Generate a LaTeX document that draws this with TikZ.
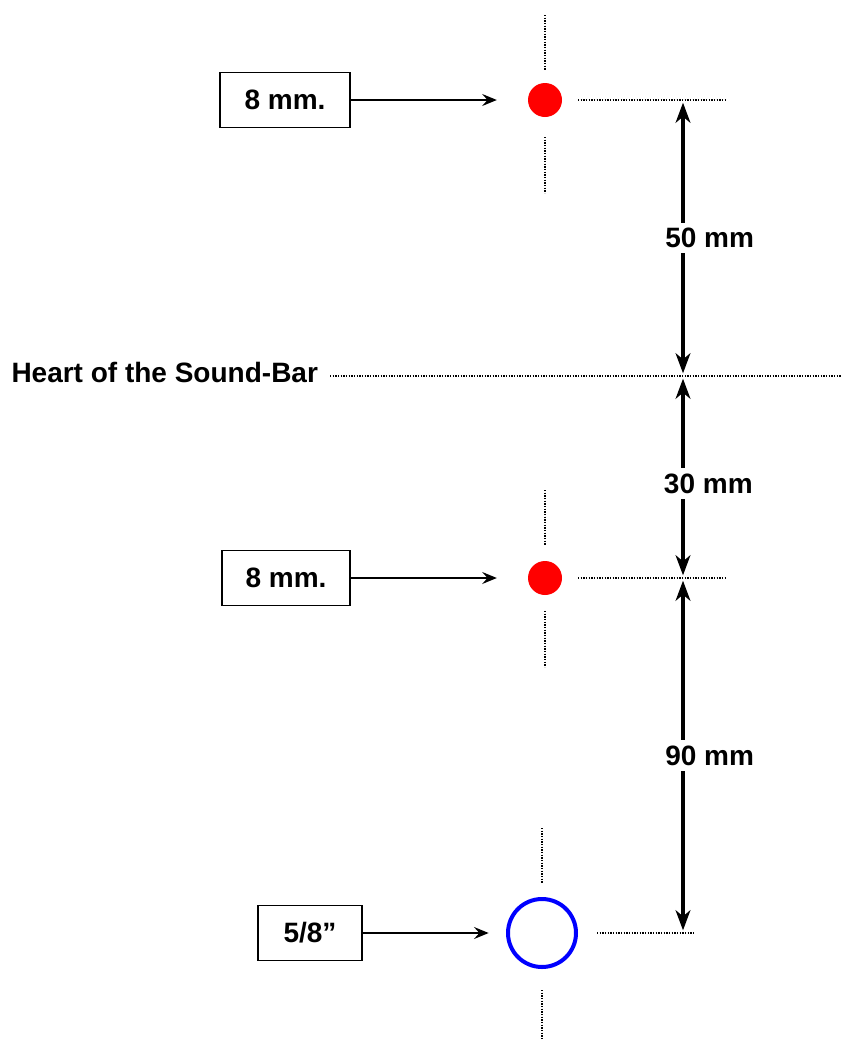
\documentclass[tikz,border=0pt]{standalone}
\usepackage{fontspec}
\setmainfont{Liberation Sans}
\usetikzlibrary{arrows.meta}
\tikzset{every picture/.style={line width=0.75pt}}

\begin{document}
\begin{tikzpicture}[x=0.75pt,y=0.75pt,yscale=-1,xscale=1,
  lbl/.style={font=\fontsize{21}{25}\selectfont\bfseries, inner sep=0.75pt},
  tag/.style={lbl, draw, line width=1.2pt, minimum height=41pt},
  hole/.style={circle, fill=red, minimum size=25.5pt, inner sep=0},
  guide/.style={line width=1.4pt, dash pattern=on 1.1pt off 0.9pt},
  pointer/.style={-{Stealth[length=11pt,width=9pt,inset=4pt]}, line width=1.2pt},
  dimline/.style={{Stealth[length=15pt,width=11pt,inset=4.5pt]}-{Stealth[length=15pt,width=11pt,inset=4.5pt]}, line width=3pt, shorten <=2pt, shorten >=2pt}]
\useasboundingbox (0,0) rectangle (842,1039);

%Shape: holes
\node [hole] (d1) at (545,100) {};
\node [hole] (d2) at (545,578) {};
\node [circle, draw={rgb, 255:red, 0; green, 0; blue, 255}, line width=3pt, minimum size=51pt, inner sep=0] (d3) at (542,933) {};

%Shape: size tags
\node [tag, minimum width=97.5pt] (b1) at (285,100) {8 mm.};
\node [tag, minimum width=96pt] (b2) at (286,578) {8 mm.};
\node [tag, minimum width=78pt] (b3) at (310,933) {5/8”};

%Straight Lines: pointers
\draw [pointer, shorten >=23pt] (b1) -- (d1);
\draw [pointer, shorten >=23pt] (b2) -- (d2);
\draw [pointer, shorten >=13pt] (b3) -- (d3);

%Dotted guides through the holes
\draw [guide] (545,15) -- (545,70);
\draw [guide] (545,137) -- (545,193);
\draw [guide] (545,490) -- (545,545);
\draw [guide] (545,611) -- (545,667);
\draw [guide] (542,828) -- (542,883);
\draw [guide] (542,990) -- (542,1039);

%Dotted guides to the dimensions
\coordinate (m1) at (683,100);
\coordinate (m2) at (683,376);
\coordinate (m3) at (683,578);
\coordinate (m4) at (683,933);
\draw [guide] (578,100) -- (727,100);
\draw [guide] (578,578) -- (727,578);
\draw [guide] (597,933) -- (695,933);

% Text Node
\node [lbl, anchor=base west] (heart) at (10,382) {Heart of the Sound-Bar};
\draw [guide] (330,376) -- (842,376);

%Dimension arrows
\draw [dimline] (m1) -- (m2) node [lbl, midway, fill=white, inner sep=4pt, xshift=20pt] (t50) {50 mm};
\draw [dimline] (m2) -- (m3) node [lbl, midway, fill=white, inner sep=4pt, xshift=19pt, yshift=-5pt] (t30) {30 mm};
\draw [dimline] (m3) -- (m4) node [lbl, midway, fill=white, inner sep=4pt, xshift=20pt] (t90) {90 mm};

\end{tikzpicture}
\end{document}
